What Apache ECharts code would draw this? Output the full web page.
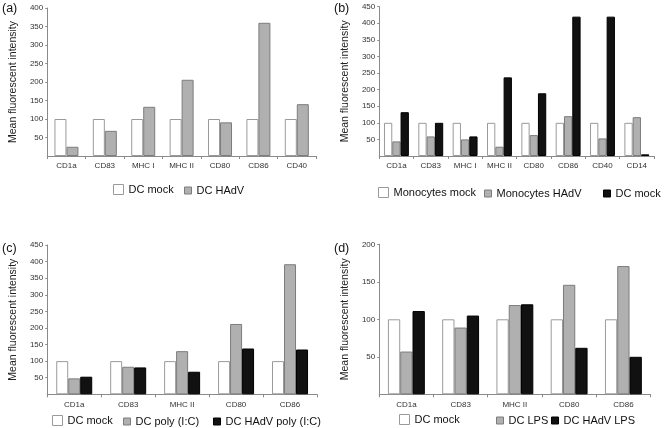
<!DOCTYPE html>
<html><head><meta charset="utf-8">
<script src="https://cdn.jsdelivr.net/npm/echarts@6/dist/echarts.min.js"></script>
<style>
html,body{margin:0;padding:0;background:#fff;}
#wrap{position:relative;width:665px;height:428px;}
.p{position:absolute;}
</style></head>
<body><div id="wrap">
<div id="pa" class="p" style="left:0;top:0;width:332px;height:214px"></div>
<div id="pb" class="p" style="left:332px;top:0;width:333px;height:214px"></div>
<div id="pc" class="p" style="left:0;top:214px;width:332px;height:214px"></div>
<div id="pd" class="p" style="left:332px;top:214px;width:333px;height:214px"></div>
</div>
<script>
// Panel (a)
const catsA = ['CD1a','CD83','MHC I','MHC II','CD80','CD86','CD40'];
const aDcMock = [100,100,100,100,100,100,100];
const aDcHadv = [25,68,133,206,91,360,140];
// Panel (b)
const catsB = ['CD1a','CD83','MHC I','MHC II','CD80','CD86','CD40','CD14'];
const bMonoMock = [100,100,100,100,100,100,100,100];
const bMonoHadv = [44,59,50,28,63,120,53,117];
const bDcMock = [132,100,59,237,189,420,420,5];
// Panel (c)
const catsC = ['CD1a','CD83','MHC II','CD80','CD86'];
const cDcMock = [100,100,100,100,100];
const cDcPoly = [48,83,130,212,392];
const cDcHadvPoly = [53,81,68,138,135];
// Panel (d)
const catsD = ['CD1a','CD83','MHC II','CD80','CD86'];
const dDcMock = [100,100,100,100,100];
const dDcLps = [57,89,119,146,171];
const dDcHadvLps = [111,105,120,62,50];

const FONT = 'Liberation Sans';
const WHITE = {color:'#ffffff', borderColor:'#9a9a9a', borderWidth:1};
const GRAY = {color:'#b0b0b0', borderColor:'#7c7c7c', borderWidth:1};
const BLACK = {color:'#111111', borderColor:'#000000', borderWidth:1};

function build(el, cfg){
  const chart = echarts.init(document.getElementById(el), null, {renderer:'canvas'});
  const legends = cfg.legend.map(l => ({
    data:[{name:l.name, itemStyle:l.style}],
    left:l.x, top:l.y, padding:0, itemGap:0,
    itemWidth:l.w, itemHeight:l.w, icon:'rect',
    selectedMode:false,
    textStyle:{fontFamily:FONT, fontSize:11, color:'#111', padding:[0,0,0,0]}
  }));
  chart.setOption({
    animation:false,
    textStyle:{fontFamily:FONT},
    title:{text:cfg.label, left:cfg.labelX, top:cfg.labelY, padding:0,
      textStyle:{fontFamily:FONT, fontSize:12.5, fontWeight:'normal', color:'#111'}},
    legend:legends,
    grid:{left:cfg.grid[0], top:cfg.grid[1], width:cfg.grid[2], height:cfg.grid[3], containLabel:false},
    xAxis:{type:'category', data:cfg.cats,
      axisLine:{lineStyle:{color:'#8a8a8a', width:1}},
      axisTick:{show:true, length:3, interval:0, alignWithLabel:false, lineStyle:{color:'#8a8a8a'}},
      axisLabel:{fontFamily:FONT, fontSize:8, color:'#333', margin:6, interval:0}},
    yAxis:{type:'value', min:0, max:cfg.max, interval:50,
      name:'Mean fluorescent intensity', nameLocation:'middle', nameGap:cfg.nameGap,
      nameTextStyle:{fontFamily:FONT, fontSize:10.5, color:'#222'},
      axisLine:{show:true, lineStyle:{color:'#8a8a8a', width:1}},
      axisTick:{show:true, length:2, lineStyle:{color:'#8a8a8a'}},
      splitLine:{show:false},
      axisLabel:{fontFamily:FONT, fontSize:8, color:'#333', margin:4, showMinLabel:false}},
    series:cfg.series.map(s => ({type:'bar', name:s.name, data:s.data, itemStyle:s.style,
      barWidth:cfg.barWidth, barGap:'0%', barCategoryGap:cfg.gap}))
  });
}

build('pa', {
  label:'(a)', labelX:2, labelY:2,
  grid:[37,8,279,148], max:400, nameGap:21, cats:catsA, barWidth:12, gap:'40%',
  series:[{name:'DC mock', data:aDcMock, style:WHITE},{name:'DC HAdV', data:aDcHadv, style:GRAY}],
  legend:[{name:'DC mock', style:WHITE, x:113, y:184, w:10},
          {name:'DC HAdV', style:GRAY, x:184, y:185, w:7}]
});
build('pb', {
  label:'(b)', labelX:2, labelY:2,
  grid:[43,6.7,279,149.3], max:450, nameGap:20, cats:catsB, barWidth:8.3, gap:'28%',
  series:[{name:'Monocytes mock', data:bMonoMock, style:WHITE},
          {name:'Monocytes HAdV', data:bMonoHadv, style:GRAY},
          {name:'DC mock', data:bDcMock, style:BLACK}],
  legend:[{name:'Monocytes mock', style:WHITE, x:46, y:187, w:10},
          {name:'Monocytes HAdV', style:GRAY, x:152, y:188, w:7},
          {name:'DC mock', style:BLACK, x:271, y:188, w:7}]
});
build('pc', {
  label:'(c)', labelX:2, labelY:28,
  grid:[39,31,278,149.3], max:450, nameGap:21, cats:catsC, barWidth:12, gap:'35%',
  series:[{name:'DC mock', data:cDcMock, style:WHITE},
          {name:'DC poly (I:C)', data:cDcPoly, style:GRAY},
          {name:'DC HAdV poly (I:C)', data:cDcHadvPoly, style:BLACK}],
  legend:[{name:'DC mock', style:WHITE, x:52, y:201, w:10},
          {name:'DC poly (I:C)', style:GRAY, x:123, y:202, w:7},
          {name:'DC HAdV poly (I:C)', style:BLACK, x:213, y:202, w:7}]
});
build('pd', {
  label:'(d)', labelX:2, labelY:28,
  grid:[46,30.3,272.5,150], max:200, nameGap:23, cats:catsD, barWidth:12.3, gap:'34%',
  series:[{name:'DC mock', data:dDcMock, style:WHITE},
          {name:'DC LPS', data:dDcLps, style:GRAY},
          {name:'DC HAdV LPS', data:dDcHadvLps, style:BLACK}],
  legend:[{name:'DC mock', style:WHITE, x:67, y:200, w:10},
          {name:'DC LPS', style:GRAY, x:164, y:201, w:7},
          {name:'DC HAdV LPS', style:BLACK, x:219, y:201, w:7}]
});
</script>
</body></html>
